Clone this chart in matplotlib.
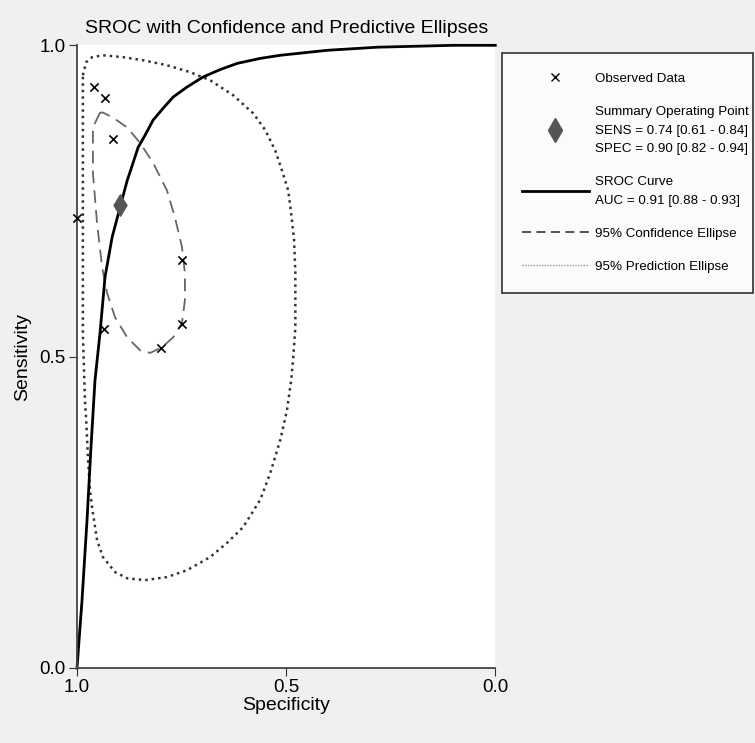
import numpy as np
import matplotlib
matplotlib.use('Agg')
import matplotlib.pyplot as plt
from matplotlib.lines import Line2D

plt.rcParams['font.family'] = ['Liberation Sans Narrow', 'Liberation Sans', 'DejaVu Sans']

# observed studies (specificity, sensitivity)
obs_spec = [1.00, 0.959, 0.933, 0.914, 0.749, 0.749, 0.935, 0.800]
obs_sens = [0.722, 0.933, 0.915, 0.849, 0.655, 0.552, 0.544, 0.514]

# summary operating point
sum_spec = 0.897
sum_sens = 0.743

# SROC curve
sroc_spec = [1.0, 0.988, 0.976, 0.967, 0.957, 0.945, 0.933, 0.916, 0.897, 0.880,
             0.868, 0.854, 0.837, 0.818, 0.794, 0.770, 0.737, 0.699, 0.658, 0.617,
             0.562, 0.514, 0.402, 0.282, 0.100, 0.0]
sroc_sens = [0.0, 0.109, 0.238, 0.350, 0.462, 0.538, 0.628, 0.692, 0.740, 0.783,
             0.807, 0.836, 0.856, 0.880, 0.899, 0.917, 0.933, 0.949, 0.961, 0.971,
             0.979, 0.984, 0.992, 0.997, 1.0, 1.0]

# 95% confidence ellipse
conf_spec = [0.945, 0.962, 0.962, 0.952, 0.940, 0.928, 0.909, 0.880, 0.849, 0.825,
             0.797, 0.770, 0.749, 0.742, 0.742, 0.749, 0.766, 0.785, 0.818, 0.849,
             0.880, 0.914, 0.938, 0.945]
conf_sens = [0.892, 0.868, 0.795, 0.714, 0.644, 0.602, 0.563, 0.531, 0.510, 0.506,
             0.515, 0.531, 0.554, 0.591, 0.634, 0.676, 0.724, 0.767, 0.811, 0.843,
             0.868, 0.884, 0.892, 0.892]

# 95% prediction ellipse
pred_spec = [0.986, 0.978, 0.964, 0.938, 0.890, 0.842, 0.785, 0.730, 0.682, 0.627,
             0.579, 0.550, 0.526, 0.510, 0.495, 0.488, 0.481, 0.478, 0.478, 0.478,
             0.483, 0.488, 0.498, 0.514, 0.538, 0.562, 0.603, 0.641, 0.682, 0.737,
             0.785, 0.837, 0.880, 0.909, 0.938, 0.952, 0.964, 0.969, 0.974, 0.978,
             0.981, 0.986, 0.986, 0.986, 0.986, 0.986]
pred_sens = [0.952, 0.973, 0.981, 0.984, 0.981, 0.976, 0.968, 0.957, 0.944, 0.920,
             0.891, 0.864, 0.831, 0.799, 0.767, 0.730, 0.687, 0.634, 0.591, 0.547,
             0.499, 0.462, 0.414, 0.366, 0.313, 0.270, 0.226, 0.201, 0.178, 0.157,
             0.146, 0.141, 0.144, 0.154, 0.178, 0.205, 0.258, 0.286, 0.339, 0.398,
             0.430, 0.538, 0.591, 0.751, 0.880, 0.952]

ticks = [1.0, 0.5, 0.0]
tick_labels = ['1.0', '0.5', '0.0']

fig = plt.figure(figsize=(7.55, 7.43), dpi=100, facecolor='#f0f0f0')
ax = fig.add_axes([0.102, 0.101, 0.554, 0.838])
ax.set_facecolor('white')

ax.plot(pred_spec, pred_sens, color='#333333', linestyle=(0, (1, 1.6)), lw=1.8)
ax.plot(conf_spec, conf_sens, color='#666666', linestyle=(0, (7, 4)), lw=1.3)
ax.plot(sroc_spec, sroc_sens, color='black', lw=2, clip_on=False)
ax.scatter(obs_spec, obs_sens, marker='x', s=35, color='black', lw=1.2, zorder=4, clip_on=False)
ax.scatter([sum_spec], [sum_sens], marker='d', s=120, color='#555555', zorder=5)

ax.set_xlim(1.0, 0.0)
ax.set_ylim(0.0, 1.0)
ax.set_xticks(ticks)
ax.set_yticks(ticks)
ax.set_xticklabels(tick_labels)
ax.set_yticklabels(tick_labels)
ax.tick_params(labelsize=13.5, length=6, color='#333333', pad=2)
for s in ['top', 'right']:
    ax.spines[s].set_visible(False)
for s in ['left', 'bottom']:
    ax.spines[s].set_color('#444444')
    ax.spines[s].set_linewidth(1.3)

ax.set_xlabel('Specificity', fontsize=14, labelpad=1)
ax.set_ylabel('Sensitivity', fontsize=14, labelpad=6)
ax.set_title('SROC with Confidence and Predictive Ellipses', fontsize=14, pad=9)

handles = [
    Line2D([], [], marker='x', color='black', ls='none', markersize=6),
    Line2D([], [], marker='d', color='#555555', ls='none', markersize=12),
    Line2D([], [], color='black', lw=2),
    Line2D([], [], color='#444444', lw=1.3, linestyle=(0, (5, 3))),
    Line2D([], [], color='#999999', lw=1.0, linestyle=(0, (1, 1))),
]
labels = [
    'Observed Data',
    'Summary Operating Point\nSENS = 0.74 [0.61 - 0.84]\nSPEC = 0.90 [0.82 - 0.94]',
    'SROC Curve\nAUC = 0.91 [0.88 - 0.93]',
    '95% Confidence Ellipse',
    '95% Prediction Ellipse',
]
leg = fig.legend(handles, labels, loc='upper left',
                 bbox_to_anchor=(0.665, 0.606, 0.332, 0.323), mode='expand',
                 fontsize=9.6, frameon=True, fancybox=False, edgecolor='black',
                 handlelength=5.0, handletextpad=0.45, labelspacing=1.55,
                 borderpad=1.5, borderaxespad=0)
leg.get_frame().set_linewidth(1.2)
for t in leg.get_texts():
    t.set_linespacing(1.75)

fig.savefig('out.png', dpi=100, facecolor=fig.get_facecolor())
